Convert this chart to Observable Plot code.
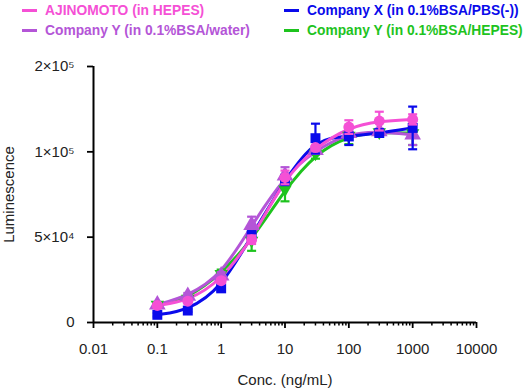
<!DOCTYPE html>
<html><head><meta charset="utf-8">
<script src="https://cdn.jsdelivr.net/npm/d3@7"></script>
<script src="https://cdn.jsdelivr.net/npm/@observablehq/plot@0.6"></script>
<style>
body{margin:0;background:#fff;font-family:Arial,"Liberation Sans",sans-serif;}
#legend{display:grid;grid-template-columns:262px auto;padding-left:22px;height:40px;font-weight:bold;font-size:13.8px;line-height:17px;}
.item{display:flex;align-items:center;white-space:nowrap}
.sw{display:inline-block;width:15px;height:3px;margin-right:8px}
</style></head><body>
<div id="legend"></div>
<div id="chart"></div>
<script>
// concentrations (ng/mL)
const conc = [0.1, 0.3, 1, 3, 10, 30, 100, 300, 1000];
// series (legend order)
const seriesNames = ["AJINOMOTO (in HEPES)", "Company X (in 0.1%BSA/PBS(-))", "Company Y (in 0.1%BSA/water)", "Company Y (in 0.1%BSA/HEPES)"];
const seriesColors = ["#f550d5", "#0a0aeb", "#b455d7", "#1ec31e"];
const seriesSymbols = ["circle", "square", "triangle", "triangle"];
const seriesRotate = [0, 0, 0, 180];
// luminescence means
const ajinomoto = [10000, 12500, 24500, 48500, 85000, 105000, 129000, 136000, 138000];
const companyX = [4500, 7000, 20000, 51000, 83500, 116000, 118000, 122000, 128000];
const companyYWater = [10500, 15500, 27500, 57000, 86000, 102000, 122000, 124000, 120000];
const companyYHepes = [10500, 14000, 28500, 48000, 78000, 99000, 119000, 123000, 122000];
// error (SD)
const ajinomotoErr = [1000, 1200, 1500, 2500, 4000, 2500, 8000, 11000, 6000];
const companyXErr = [1000, 800, 1500, 2500, 3000, 17000, 10000, 3000, 25000];
const companyYWaterErr = [800, 1800, 2000, 5000, 5000, 3000, 3000, 3000, 12000];
const companyYHepesErr = [800, 1500, 2500, 6000, 7000, 3000, 10000, 3000, 14000];
// axis ticks
const xTicks = [0.01, 0.1, 1, 10, 100, 1000, 10000];
const xTickLabels = ["0.01", "0.1", "1", "10", "100", "1000", "10000"];
const yTicks = [0, 50000, 100000, 200000];
const yTickLabels = ["0", "5×10⁴", "1×10⁵", "2×10⁵"];

const means = [ajinomoto, companyX, companyYWater, companyYHepes];
const errs = [ajinomotoErr, companyXErr, companyYWaterErr, companyYHepesErr];

// legend
const leg = document.getElementById("legend");
seriesNames.forEach((n, i) => {
  const d = document.createElement("div");
  d.className = "item";
  d.style.color = seriesColors[i];
  d.innerHTML = `<span class="sw" style="background:${seriesColors[i]}"></span>${n}`;
  leg.appendChild(d);
});

const rows = [];
means.forEach((arr, s) => arr.forEach((v, i) => rows.push({s, x: conc[i], y: v, lo: v - errs[s][i], hi: v + errs[s][i]})));

const width = 527, height = 349, marginTop = 26, marginBottom = 67, marginLeft = 93, marginRight = 51;
const yBottom = height - marginBottom, yTop = marginTop;
const yMid = yBottom - (yBottom - yTop) * 2 / 3;

const minorTicks = [];
for (let k = -2; k < 4; k++) for (let m = 2; m < 10; m++) minorTicks.push(m * Math.pow(10, k));

const cap = {draw(ctx, size) { const w = Math.sqrt(size / Math.PI); ctx.moveTo(-w, 0); ctx.lineTo(w, 0); }};
const xLab = new Map(xTicks.map((t, i) => [t, xTickLabels[i]]));
const yLab = new Map(yTicks.map((t, i) => [t, yTickLabels[i]]));

const drawOrder = [3, 2, 1, 0];
const sizes = [5.5, 5.6, 6.2, 5];
const marks = [];
for (const s of drawOrder) {
  marks.push(Plot.line(rows.filter(d => d.s === s), {x: "x", y: "y", stroke: seriesColors[s], strokeWidth: 3, curve: "basis"}));
}
for (const s of drawOrder) {
  const data = rows.filter(d => d.s === s);
  marks.push(Plot.link(data, {x1: "x", x2: "x", y1: "lo", y2: "hi", stroke: seriesColors[s], strokeWidth: 2.2}));
  marks.push(Plot.dot(data, {x: "x", y: "lo", symbol: cap, r: 4.5, fill: "none", stroke: seriesColors[s], strokeWidth: 2.2}));
  marks.push(Plot.dot(data, {x: "x", y: "hi", symbol: cap, r: 4.5, fill: "none", stroke: seriesColors[s], strokeWidth: 2.2}));
  marks.push(Plot.dot(data, {x: "x", y: "y", symbol: seriesSymbols[s], rotate: seriesRotate[s], r: sizes[s], fill: seriesColors[s], stroke: "none"}));
}

const chart = Plot.plot({
  width, height, marginTop, marginBottom, marginLeft, marginRight,
  style: {fontFamily: "Arial, 'Liberation Sans', sans-serif", fontSize: "15px", color: "#222", background: "#fff"},
  x: {type: "log", domain: [0.01, 10000]},
  y: {type: "linear", domain: [0, 100000, 200000], range: [yBottom, yMid, yTop]},
  marks: [
    Plot.axisX({ticks: minorTicks, tickSize: 3.5, tickFormat: () => "", label: null, stroke: "#000", strokeWidth: 1.5}),
    Plot.axisX({ticks: xTicks, tickSize: 6, tickPadding: 15, tickFormat: d => xLab.get(d), stroke: "#000", strokeWidth: 1.8, fontSize: 15,
      label: "Conc. (ng/mL)", labelAnchor: "center", labelOffset: 62, labelArrow: "none"}),
    Plot.axisY({ticks: yTicks, tickSize: 6, tickPadding: 13, tickFormat: d => yLab.get(d), stroke: "#000", strokeWidth: 1.8, fontSize: 15,
      label: "Luminescence", labelAnchor: "center", labelOffset: 90, labelArrow: "none"}),
    Plot.ruleY([0], {stroke: "#000", strokeWidth: 2}),
    Plot.ruleX([0.01], {stroke: "#000", strokeWidth: 2}),
    ...marks
  ]
});
document.getElementById("chart").appendChild(chart);
</script>
</body></html>
